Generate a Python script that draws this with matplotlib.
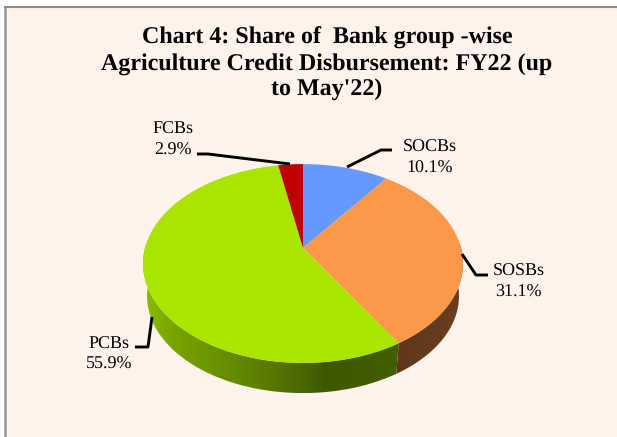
import numpy as np
import matplotlib
matplotlib.use("Agg")
import matplotlib.pyplot as plt
from matplotlib.patches import Polygon, Rectangle
from matplotlib.colors import LinearSegmentedColormap

categories = ["SOCBs", "SOSBs", "PCBs", "FCBs"]
shares = [10.1, 31.1, 55.9, 2.9]
labels = ["10.1%", "31.1%", "55.9%", "2.9%"]
title = "Chart 4: Share of  Bank group -wise\nAgriculture Credit Disbursement: FY22 (up\nto May'22)"
colors = ["#6699FF", "#FC9848", "#AAE500", "#C00000"]

BG = "#FFF3EB"
CX, CY, B, A, K = 303, 248, 158, 97, 0.156
SHRINK, DROP = 0.975, 33.0


def project(t):
    d = 1 + K * np.sin(t)
    return CX + B * np.cos(t) / d, CY - A * np.sin(t) / d


def project_low(t):
    x, y = project(t)
    return CX + SHRINK * (x - CX), CY + SHRINK * (y - CY) + DROP


plt.rcParams["font.family"] = ["Liberation Serif", "DejaVu Serif"]
plt.rcParams["text.hinting"] = "none"
fig = plt.figure(figsize=(6.17, 4.37), dpi=100, facecolor="white")
ax = fig.add_axes([0, 0, 1, 1])
ax.set_xlim(0, 617)
ax.set_ylim(437, 0)
ax.axis("off")

ax.add_patch(Rectangle((5, 7), 612, 430, fc=BG, ec="none", zorder=0))
ax.plot([5.2, 5.2], [437, 6], color="#9C9C9C", lw=1.9, zorder=1, solid_capstyle="butt")
ax.plot([4, 617], [7, 7], color="#8A8A8A", lw=1.5, zorder=1, solid_capstyle="butt")

edges = np.cumsum([0] + shares) / sum(shares)
angles = np.pi / 2 - 2 * np.pi * edges

# side wall gradients, clipped to each slice's visible band
green_rim = LinearSegmentedColormap.from_list("green_rim", [
    (0.00, "#8CBC00"), (0.12, "#78A400"), (0.45, "#5C8000"),
    (0.72, "#3E5800"), (1.00, "#445F00")])
brown_rim = LinearSegmentedColormap.from_list("brown_rim", ["#5E381C", "#6A3F20"])
rim_maps = {1: brown_rim, 2: green_rim}

for i, cmap in rim_maps.items():
    hi, lo = angles[i], angles[i + 1]
    ts = np.linspace(hi, lo, 400)
    ts = ts[np.sin(ts) <= 0.05]
    xt, yt = project(ts)
    xb, yb = project_low(ts)
    pts = np.column_stack([np.r_[xt, xb[::-1]], np.r_[yt, yb[::-1]]])
    poly = Polygon(pts, fc="none", ec="none", transform=ax.transData)
    ax.add_patch(poly)
    left, right = pts[:, 0].min(), pts[:, 0].max()
    grad = np.linspace(0, 1, 256)[None, :]
    im = ax.imshow(grad, cmap=cmap, extent=(left, right, pts[:, 1].max(), pts[:, 1].min()),
                   aspect="auto", zorder=2, interpolation="bilinear")
    im.set_clip_path(poly)
ax.set_xlim(0, 617)
ax.set_ylim(437, 0)

# top face
for i, c in enumerate(colors):
    ts = np.linspace(angles[i], angles[i + 1], 200)
    xs, ys = project(ts)
    pts = np.column_stack([np.r_[CX, xs], np.r_[CY, ys]])
    ax.add_patch(Polygon(pts, fc=c, ec="none", zorder=3))

# labels
positions = [(429.5, 158), (518.5, 282), (109, 354.5), (173, 140)]
for name, lab, (x, y) in zip(categories, labels, positions):
    ax.text(x, y, f"{name}\n{lab}", ha="center", va="center", fontsize=13,
            linespacing=1.33, color="black", zorder=5)

# leader lines
leaders = [
    [(347, 167), (381, 150), (392, 150)],
    [(462, 254), (476, 275), (488, 275)],
    [(152, 317), (148, 347), (135, 347)],
    [(197, 154), (208, 154), (290, 164)],
]
for pts in leaders:
    xs, ys = zip(*pts)
    ax.plot(xs, ys, color="black", lw=2.1, zorder=4, solid_joinstyle="round",
            solid_capstyle="butt")

ax.text(327, 63.5, title, ha="center", va="center", fontsize=17.3, fontweight="bold",
        linespacing=1.22, color="black", zorder=5)

fig.savefig("out.png", dpi=100, facecolor="white")
